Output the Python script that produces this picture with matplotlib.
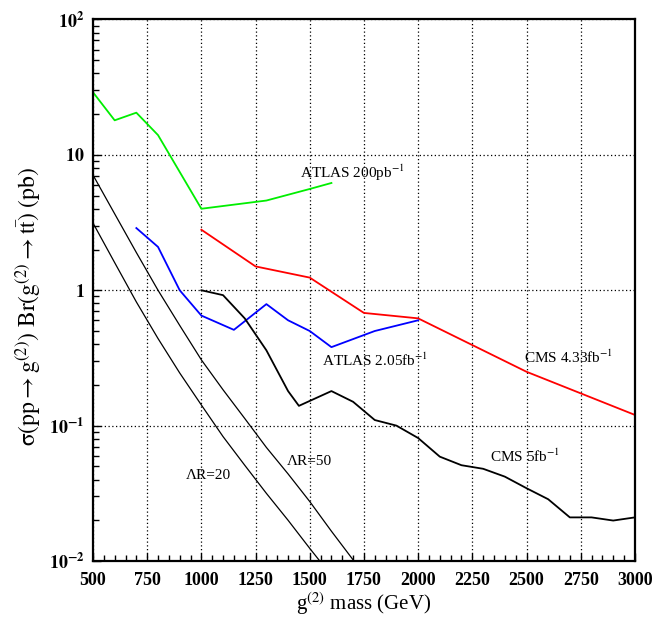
import numpy as np
import matplotlib
matplotlib.use("Agg")
from matplotlib import pyplot as plt
from matplotlib.ticker import FixedLocator, MultipleLocator, NullFormatter, LogLocator

plt.rcParams['font.family'] = ['Liberation Serif', 'DejaVu Serif']
plt.rcParams['mathtext.fontset'] = 'stix'

# ATLAS 200 pb^-1 limit (green)
atlas200_m = [500, 600, 700, 800, 1000, 1300, 1500, 1600]
atlas200_xs = [29, 18, 20.5, 14, 4.0, 4.6, 5.6, 6.2]

# CMS 4.33 fb^-1 limit (red)
cms433_m = [1000, 1250, 1500, 1750, 2000, 2500, 3000]
cms433_xs = [2.8, 1.5, 1.24, 0.68, 0.62, 0.25, 0.12]

# ATLAS 2.05 fb^-1 limit (blue)
atlas205_m = [700, 800, 900, 1000, 1150, 1300, 1400, 1500, 1600, 1800, 2000]
atlas205_xs = [2.88, 2.09, 1.0, 0.65, 0.51, 0.79, 0.6, 0.5, 0.38, 0.5, 0.6]

# CMS 5 fb^-1 limit (black)
cms5_m = [1000, 1100, 1200, 1300, 1400, 1450, 1600, 1700, 1800, 1900, 2000,
          2100, 2200, 2300, 2400, 2500, 2600, 2700, 2800, 2900, 3000]
cms5_xs = [1.0, 0.92, 0.62, 0.36, 0.18, 0.14, 0.18, 0.15, 0.11, 0.1, 0.081,
           0.059, 0.051, 0.048, 0.042, 0.0345, 0.0286, 0.021, 0.021, 0.0199, 0.021]

# theory curves
lr20_m = [500, 600, 700, 800, 900, 1000, 1100, 1200, 1300, 1400, 1500, 1600]
lr20_xs = [3.14, 1.60, 0.82, 0.44, 0.245, 0.142, 0.083, 0.051, 0.0316, 0.020, 0.0124, 0.0078]

lr50_m = [500, 600, 700, 800, 900, 1000, 1100, 1200, 1300, 1400, 1500, 1600, 1700, 1800]
lr50_xs = [7.1, 3.67, 1.9, 1.0, 0.55, 0.306, 0.184, 0.113, 0.069, 0.044, 0.0275, 0.0166, 0.0102, 0.0063]

fig = plt.figure(figsize=(6.69, 6.21), dpi=100)
ax = fig.add_axes([0.139, 0.0966, 0.81, 0.872])

ax.plot(atlas200_m, atlas200_xs, color='#00ee00', lw=1.3)
ax.plot(cms433_m, cms433_xs, color='#ff0000', lw=1.3)
ax.plot(atlas205_m, atlas205_xs, color='#0000ff', lw=1.3)
ax.plot(cms5_m, cms5_xs, color='black', lw=1.3)
ax.plot(lr20_m, lr20_xs, color='black', lw=0.9)
ax.plot(lr50_m, lr50_xs, color='black', lw=0.9)

ax.set_yscale('log')
ax.set_xlim(500, 3000)
ax.set_ylim(0.01, 100)

# ticks
ax.xaxis.set_major_locator(MultipleLocator(250))
ax.xaxis.set_minor_locator(MultipleLocator(50))
ax.yaxis.set_major_locator(FixedLocator([0.01, 0.1, 1, 10, 100]))
ax.yaxis.set_minor_locator(LogLocator(base=10, subs=np.arange(2, 10)))
ax.yaxis.set_minor_formatter(NullFormatter())
ax.set_yticklabels([r'$\mathbf{10^{-2}}$', r'$\mathbf{10^{-1}}$', r'$\mathbf{1}$',
                    r'$\mathbf{10}$', r'$\mathbf{10^{2}}$'])
for lab in ax.get_xticklabels():
    lab.set_fontweight('bold')
ax.tick_params(which='both', direction='in', top=False, right=False, labelsize=13)
ax.tick_params(which='major', length=6, width=1)
ax.tick_params(which='minor', length=4, width=1)
ax.tick_params(axis='x', pad=8)
ax.tick_params(axis='y', pad=6)
for s in ax.spines.values():
    s.set_linewidth(1.6)

ax.grid(True, which='major', color='black', linestyle=(0, (1, 2)), lw=0.9)

ax.set_xlabel(r'g$^{(2)}$ mass (GeV)', fontsize=15, labelpad=1)
ax.set_ylabel(r'$\mathrm{\sigma(pp \rightarrow g^{(2)})\ Br(g^{(2)} \rightarrow t\bar{t})\ (pb)}$',
              fontsize=17)
ax.yaxis.set_label_coords(-0.093, 0.47)

# curve labels
ax.text(1455, 7.4, r'ATLAS 200pb$^{-1}$', fontsize=11, va='center')
ax.text(1556, 0.306, r'ATLAS 2.05fb$^{-1}$', fontsize=11, va='center')
ax.text(2488, 0.32, r'CMS 4.33fb$^{-1}$', fontsize=11, va='center')
ax.text(2331, 0.059, r'CMS 5fb$^{-1}$', fontsize=11, va='center')
ax.text(1395, 0.054, 'ΛR=50', fontsize=11, va='center')
ax.text(929, 0.043, 'ΛR=20', fontsize=11, va='center')

fig.savefig('out.png', dpi=100)
